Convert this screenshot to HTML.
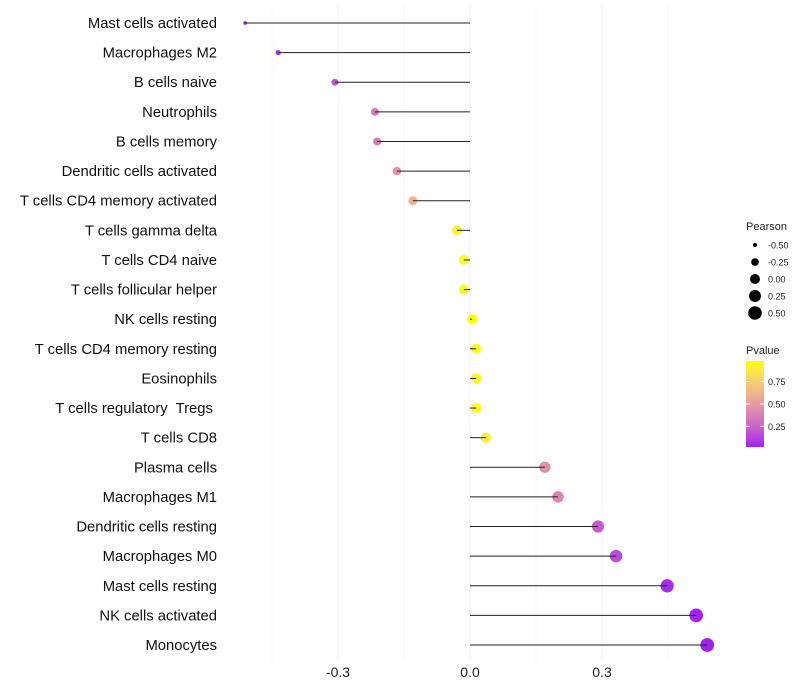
<!DOCTYPE html>
<html><head><meta charset="utf-8"><style>
body{margin:0;background:#fff;}
svg{display:block;font-family:"Liberation Sans",Arial,sans-serif;}
text{white-space:pre;}
</style></head><body>
<svg id="chart" width="800" height="700"></svg>
<script>
const categories=["Mast cells activated","Macrophages M2","B cells naive","Neutrophils","B cells memory","Dendritic cells activated","T cells CD4 memory activated","T cells gamma delta","T cells CD4 naive","T cells follicular helper","NK cells resting","T cells CD4 memory resting","Eosinophils","T cells regulatory  Tregs ","T cells CD8","Plasma cells","Macrophages M1","Dendritic cells resting","Macrophages M0","Mast cells resting","NK cells activated","Monocytes"];
const pearson=[-0.511,-0.436,-0.307,-0.216,-0.211,-0.166,-0.130,-0.030,-0.014,-0.014,0.005,0.014,0.014,0.014,0.036,0.170,0.200,0.291,0.332,0.448,0.514,0.539];
const pvalue=[0.03,0.06,0.2,0.35,0.35,0.45,0.62,0.92,0.96,0.96,0.98,0.95,0.95,0.95,0.88,0.45,0.4,0.22,0.15,0.05,0.03,0.02];
const xTicks=[-0.3,0.0,0.3];
const xMinor=[-0.45,-0.15,0.15,0.45];
const sizeLegend=[-0.5,-0.25,0,0.25,0.5];
const colorTicks=[0.25,0.5,0.75];

const NS="http://www.w3.org/2000/svg";
const svg=document.getElementById('chart');
function el(t,a,p){const e=document.createElementNS(NS,t);for(const k in a)e.setAttribute(k,a[k]);(p||svg).appendChild(e);return e;}
const x=v=>470+v*440;
const y=i=>23+i*(622/21);
const r=v=>Math.sqrt(Math.max(1,25+42*v));
function toLin(c){c/=255;return c<=0.04045?c/12.92:Math.pow((c+0.055)/1.055,2.4);}
function toS(c){c=c<=0.0031308?12.92*c:1.055*Math.pow(c,1/2.4)-0.055;return Math.round(Math.min(1,Math.max(0,c))*255);}
function rgb2lab(rgb){let [R,G,B]=rgb.map(toLin);let X=(R*0.4124+G*0.3576+B*0.1805)/0.95047,Y=R*0.2126+G*0.7152+B*0.0722,Z=(R*0.0193+G*0.1192+B*0.9505)/1.08883;const f=t=>t>0.008856?Math.cbrt(t):7.787*t+16/116;return [116*f(Y)-16,500*(f(X)-f(Y)),200*(f(Y)-f(Z))];}
function lab2rgb(l){let fy=(l[0]+16)/116,fx=fy+l[1]/500,fz=fy-l[2]/200;const fi=t=>t*t*t>0.008856?t*t*t:(t-16/116)/7.787;let X=fi(fx)*0.95047,Y=fi(fy),Z=fi(fz)*1.08883;let R=X*3.2406-Y*1.5372-Z*0.4986,G=-X*0.9689+Y*1.8758+Z*0.0415,B=X*0.0557-Y*0.2040+Z*1.0570;return `rgb(${toS(R)},${toS(G)},${toS(B)})`;}
const L0=rgb2lab([160,32,240]),L1=rgb2lab([255,255,0]);
const pmin=0.02,pmax=0.98;
function col(p){const t=Math.min(1,Math.max(0,(p-pmin)/(pmax-pmin)));return lab2rgb(L0.map((v,k)=>v+(L1[k]-v)*t));}

xMinor.forEach(v=>{const g=el('line',{x1:x(v),x2:x(v),y1:5,y2:660,stroke:'#f5f5f5','stroke-width':1});

});
xTicks.forEach(v=>{const g=el('line',{x1:x(v),x2:x(v),y1:5,y2:660,stroke:'#efefef','stroke-width':1});


const t=el('text',{x:x(v),y:677,'text-anchor':'middle','font-size':14,fill:'#222'});t.textContent=v.toFixed(1);

});

categories.forEach((c,i)=>{
 const t=el('text',{x:217,y:y(i)+5,'text-anchor':'end','font-size':14.8,fill:'#111'});t.textContent=c;
 
 
 const p=el('circle',{cx:x(pearson[i]),cy:y(i),r:r(pearson[i]),fill:col(pvalue[i])});
 
 
 const s=el('line',{x1:x(0),x2:x(pearson[i]),y1:y(i),y2:y(i),stroke:'#222','stroke-width':1});
 
 
});

const lt=el('text',{x:746,y:230,'font-size':11,fill:'#222'});lt.textContent='Pearson';


sizeLegend.forEach((v,k)=>{const cy=245+k*17;
 const c=el('circle',{cx:755,cy:cy,r:r(v),fill:'#000'});
 
 
 const t=el('text',{x:768,y:cy+3.5,'font-size':9,fill:'#222'});t.textContent=v.toFixed(2);
 
 });

const ct=el('text',{x:746,y:354,'font-size':11,fill:'#222'});ct.textContent='Pvalue';


const defs=el('defs',{});const lg=el('linearGradient',{id:'pg',x1:0,y1:1,x2:0,y2:0},defs);
for(let k=0;k<=10;k++)el('stop',{offset:k/10,'stop-color':col(pmin+(pmax-pmin)*k/10)},lg);
const bar=el('rect',{x:746,y:361,width:18,height:86,fill:'url(#pg)'});


const cy=p=>447-(p-pmin)/(pmax-pmin)*86;
colorTicks.forEach(v=>{el('line',{x1:746,x2:750,y1:cy(v),y2:cy(v),stroke:'#fff'});el('line',{x1:760,x2:764,y1:cy(v),y2:cy(v),stroke:'#fff'});
 const t=el('text',{x:768,y:cy(v)+3.5,'font-size':9,fill:'#222'});t.textContent=v.toFixed(2);
 
 });
</script>
</body></html>
